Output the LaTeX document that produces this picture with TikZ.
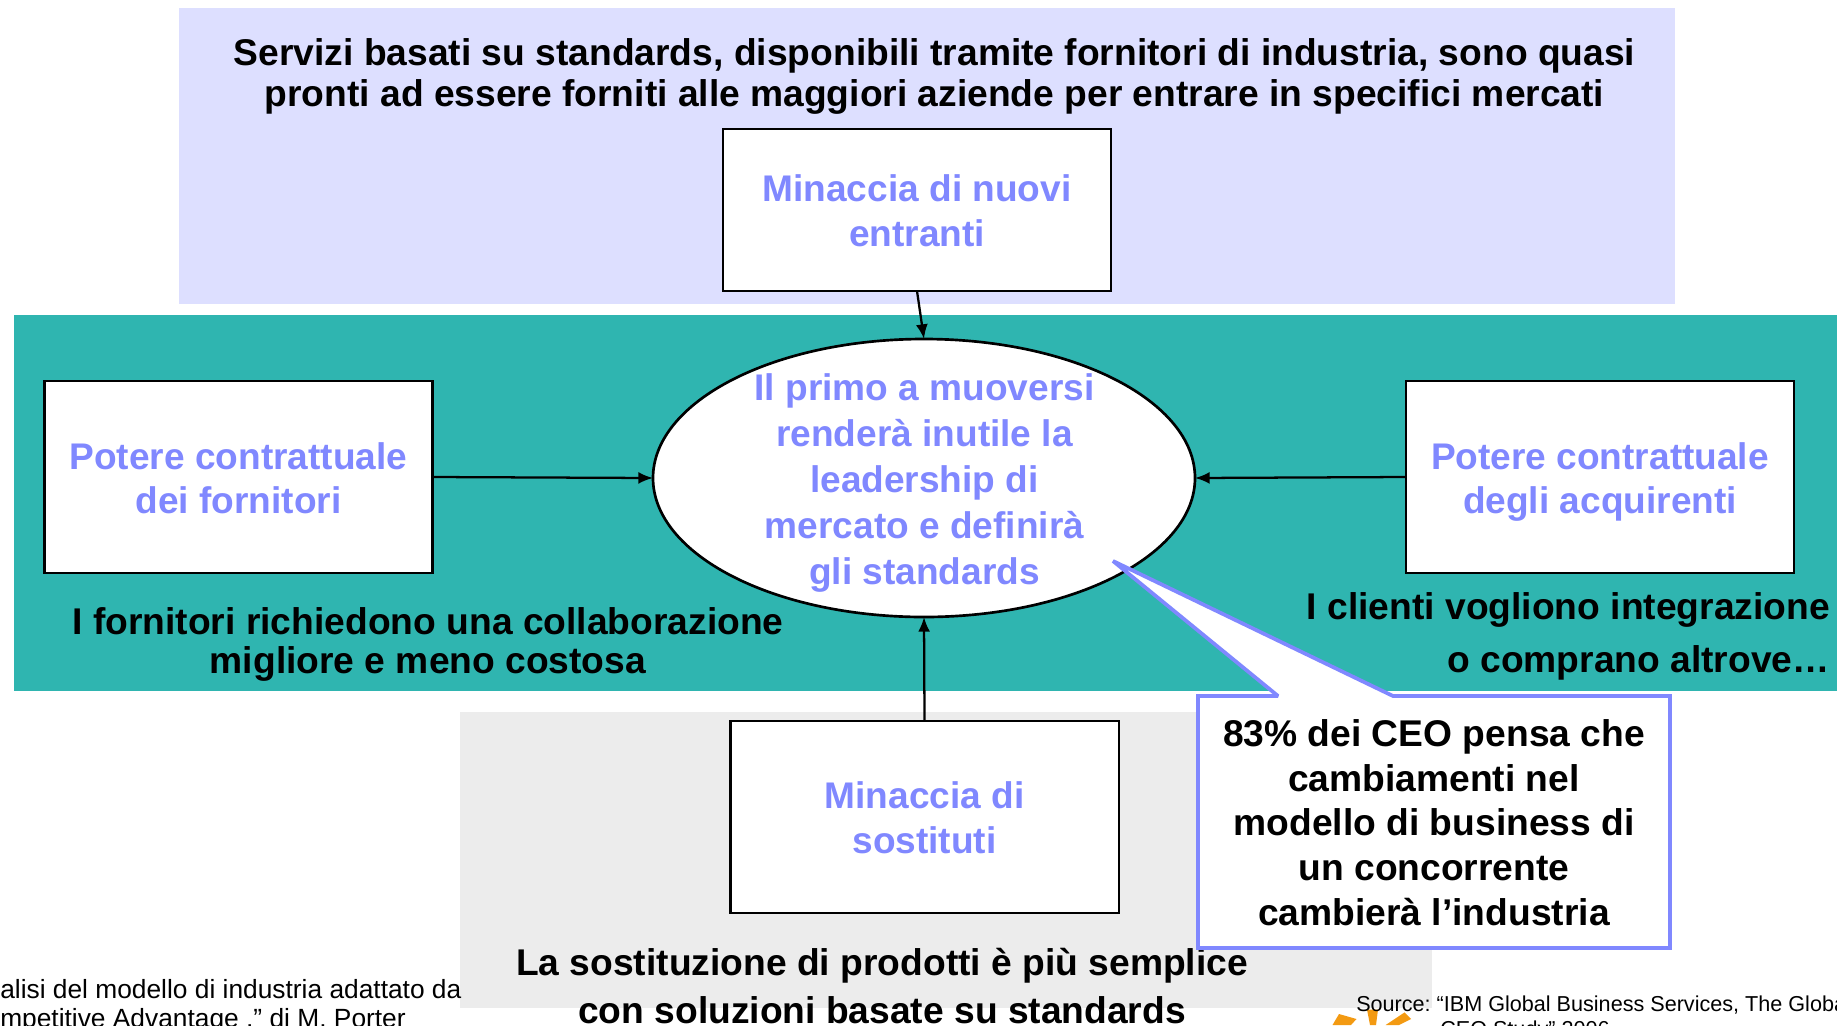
\documentclass[tikz,border=0pt]{standalone}
\usepackage{fontspec}
\setmainfont{Liberation Sans}
\usetikzlibrary{arrows.meta,shapes.geometric}
\definecolor{peri}{HTML}{8088FF}
\definecolor{tealbg}{HTML}{2FB5B0}
\definecolor{topbg}{HTML}{DDDFFF}
\definecolor{graybg}{HTML}{ECECEC}
\definecolor{starc}{HTML}{F39A12}
\tikzset{
 blackbox/.style={draw=black,fill=white,line width=2pt,inner sep=0pt,outer sep=0pt},
 head/.style={font=\bfseries\fontsize{27.9}{33}\selectfont,align=center,text=black,inner sep=0pt},
 blue/.style={font=\bfseries\fontsize{27.8}{34}\selectfont,align=center,text=peri,inner sep=0pt},
 small/.style={font=\fontsize{19.75}{22}\selectfont,inner sep=0pt,text=black,anchor=base west},
 srcnote/.style={font=\frenchspacing\fontsize{16.2}{20}\selectfont,inner sep=0pt,text=black,anchor=base west},
 conn/.style={line width=1.7pt,-{Latex[length=11pt,width=9pt]}},
}
\begin{document}
\begin{tikzpicture}[x=0.75pt,y=-0.75pt]
\useasboundingbox (0,0) rectangle (1837,1025);
\clip (0,0) rectangle (1837,1025);
\fill[topbg] (179,8) rectangle (1675,304);
\fill[tealbg] (14,315) rectangle (1837,691);
\fill[graybg] (460,712) rectangle (1432,1008);
\node[head] (t1) at (934.5,56) {Servizi basati su standards, disponibili tramite fornitori di industria, sono quasi};
\node[head] (t2) at (934.5,97) {pronti ad essere forniti alle maggiori aziende per entrare in specifici mercati};
\node[blackbox,minimum width=291pt,minimum height=121.5pt] (nuovi) at (917,210) {};
\node[blue] (nuovit) at (917,210.5) {Minaccia di nuovi\\entranti};
\node[blackbox,minimum width=291pt,minimum height=144pt] (forn) at (238.5,477) {};
\node[blue] (fornt) at (238.5,478) {Potere contrattuale\\[-1pt]dei fornitori};
\node[blackbox,minimum width=291pt,minimum height=144pt] (acq) at (1600,477) {};
\node[blue] (acqt) at (1600,482) {Potere contrattuale\\[-1pt]degli acquirenti};
\node[blackbox,minimum width=291.5pt,minimum height=144pt] (sost) at (924.5,817) {};
\node[blue] (sostt) at (924.5,818) {Minaccia di\\[-0.5pt]sostituti};
\node[draw=black,fill=white,line width=2pt,outer sep=0pt,ellipse,minimum width=406.5pt,minimum height=208.5pt,inner sep=0pt] (core) at (924,478) {};
\node[blue] (coret) at (924.5,483) {Il primo a muoversi\\[0.6pt]renderà inutile la\\[0.6pt]leadership di\\[0.6pt]mercato e definirà\\[0.6pt]gli standards};
\draw[conn] (nuovi.south) -- (core.north);
\draw[conn] (forn.east) -- (core.west);
\draw[conn] (acq.west) -- (core.east);
\draw[conn] (sost.north) -- (core.south);
\node[head] (f1) at (428,621.5) {I fornitori richiedono una collaborazione};
\node[head] (f2) at (428,664) {migliore e meno costosa};
\node[head,anchor=east] (c1) at (1830,610) {I clienti vogliono integrazione};
\node[head,anchor=east] (c2) at (1830,663) {o comprano altrove\ldots};
\node[head] (s1) at (882,966) {La sostituzione di prodotti è più semplice};
\node[head] (s2) at (882,1010) {con soluzioni basate su standards};
\coordinate (tip) at (1113,561);
\filldraw[draw=peri,fill=white,line width=2.8pt,line join=miter,miter limit=2] (1198,696) -- (1278,696) -- (tip) -- (1393,696) -- (1670,696) -- (1670,948) -- (1198,948) -- cycle;
\node[head,font=\bfseries\fontsize{27.9}{33.5}\selectfont] (q) at (1434,822.5) {83\% dei CEO pensa che\\cambiamenti nel\\modello di business di\\un concorrente\\cambierà l’industria};
\fill[starc] (1332.5,1025) -- (1339,1014) -- (1356.5,1019) -- (1351,1025) -- cycle;
\fill[starc] (1367,1009.6) -- (1378,1009.6) -- (1376,1025) -- (1370,1025) -- cycle;
\fill[starc] (1385.6,1025) -- (1404.5,1012.4) -- (1411,1019) -- (1399,1025) -- cycle;
\node[small] (l1) at (0,998) {alisi del modello di industria adattato da};
\node[small] (l2) at (0,1027) {mpetitive Advantage ,” di M. Porter};
\node[srcnote] (r1) at (1356,1011) {Source: “IBM Global Business Services, The Globa};
\node[srcnote] (r2) at (1440,1036) {CEO Study” 2006};
\end{tikzpicture}
\end{document}
